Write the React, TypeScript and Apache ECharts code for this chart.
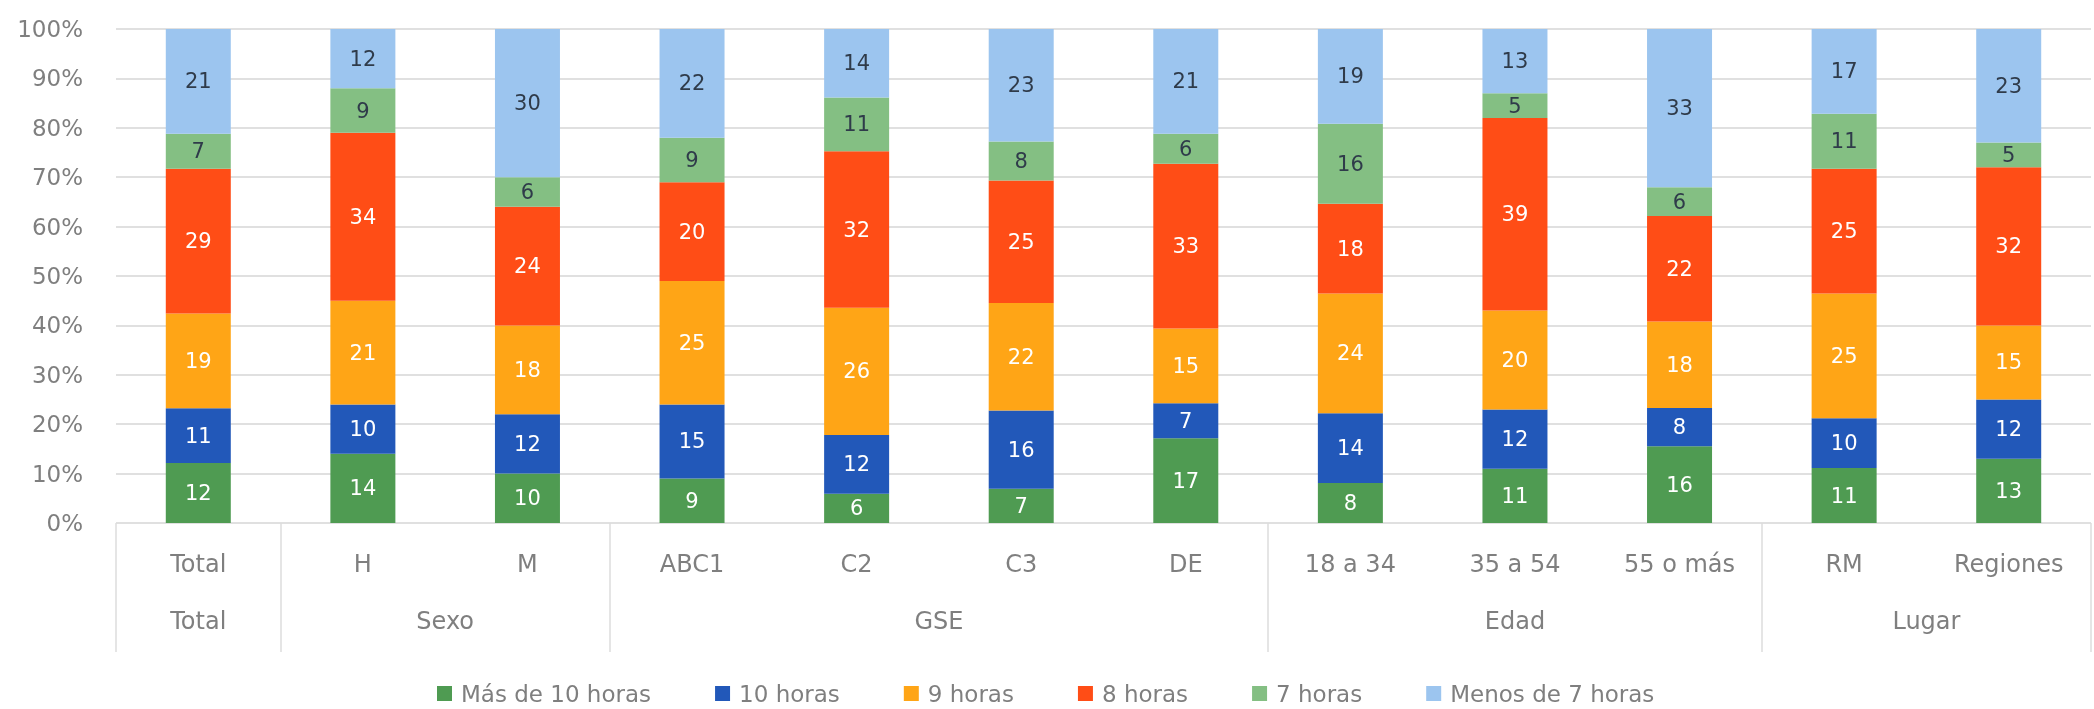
import React, { useEffect, useRef } from "react";
import * as echarts from "echarts";

const categories = ["Total", "H", "M", "ABC1", "C2", "C3", "DE", "18 a 34", "35 a 54", "55 o más", "RM", "Regiones"];
const groupNames = ["Total", "Sexo", "GSE", "Edad", "Lugar"];
const groupSizes = [1, 2, 4, 3, 2];
const seriesNames = ["Más de 10 horas", "10 horas", "9 horas", "8 horas", "7 horas", "Menos de 7 horas"];
const masDe10Horas = [12, 14, 10, 9, 6, 7, 17, 8, 11, 16, 11, 13];
const diezHoras = [11, 10, 12, 15, 12, 16, 7, 14, 12, 8, 10, 12];
const nueveHoras = [19, 21, 18, 25, 26, 22, 15, 24, 20, 18, 25, 15];
const ochoHoras = [29, 34, 24, 20, 32, 25, 33, 18, 39, 22, 25, 32];
const sieteHoras = [7, 9, 6, 9, 11, 8, 6, 16, 5, 6, 11, 5];
const menosDe7Horas = [21, 12, 30, 22, 14, 23, 21, 19, 13, 33, 17, 23];
const seriesColors = ["#4f9b52", "#2258b9", "#ffa516", "#ff4d16", "#84bf83", "#9cc5ef"];
const labelColors = ["#ffffff", "#ffffff", "#ffffff", "#ffffff", "#2f3b4a", "#2f3b4a"];

const FONT = "DejaVu Sans";
const TEXT_GREY = "#7f7f7f";

export default function App() {
  const ref = useRef<HTMLDivElement>(null);
  useEffect(() => {
    if (!ref.current) return;
    const chart = echarts.init(ref.current, undefined, { renderer: "svg" });
    const raw = [masDe10Horas, diezHoras, nueveHoras, ochoHoras, sieteHoras, menosDe7Horas];
    const totals = categories.map((_, i) => raw.reduce((s, arr) => s + arr[i], 0));

    // group axis built on half-category points
    const n = categories.length;
    const groupAxisData: string[] = new Array(2 * n + 1).fill("");
    const tickPoints: number[] = [];
    let start = 0;
    groupNames.forEach((g, k) => {
      tickPoints.push(2 * start);
      groupAxisData[2 * start + groupSizes[k]] = g;
      start += groupSizes[k];
    });
    tickPoints.push(2 * n);

    const series = raw.map((arr, s) => ({
      name: seriesNames[s],
      type: "bar",
      stack: "total",
      barWidth: 65,
      xAxisIndex: 0,
      itemStyle: { color: seriesColors[s] },
      label: {
        show: true,
        position: "inside",
        color: labelColors[s],
        fontSize: 21,
        fontFamily: FONT,
        formatter: (p: any) => String(arr[p.dataIndex]),
      },
      data: arr.map((v, i) => (v / totals[i]) * 100),
    }));

    chart.setOption({
      animation: false,
      textStyle: { fontFamily: FONT },
      grid: { left: 116, top: 29, width: 1996, height: 494 },
      legend: {
        data: seriesNames,
        left: 432,
        top: 677,
        icon: "rect",
        itemWidth: 15,
        itemHeight: 15,
        itemGap: 64,
        textStyle: { fontSize: 23, color: TEXT_GREY, fontFamily: FONT, padding: [0, 0, 0, 4] },
      },
      xAxis: [
        {
          type: "category",
          data: categories,
          axisLine: { show: false },
          axisTick: { show: false },
          axisLabel: { interval: 0, margin: 29, fontSize: 24, color: TEXT_GREY, fontFamily: FONT },
        },
        {
          type: "category",
          data: groupAxisData,
          boundaryGap: false,
          position: "bottom",
          axisLine: { show: false },
          axisTick: {
            show: true,
            interval: (idx: number) => tickPoints.includes(idx),
            length: 129,
            lineStyle: { color: "#dcdcdc", width: 1.5 },
          },
          axisLabel: { interval: 0, margin: 86, fontSize: 24, color: TEXT_GREY, fontFamily: FONT },
          splitLine: { show: false },
        },
      ],
      yAxis: {
        type: "value",
        min: 0,
        max: 100,
        interval: 10,
        axisLabel: { formatter: "{value}%", fontSize: 23, color: TEXT_GREY, margin: 33, fontFamily: FONT },
        splitLine: { lineStyle: { color: "#e0e0e0", width: 2 } },
        axisLine: { show: false },
        axisTick: { show: false },
      },
      series,
    });
    return () => chart.dispose();
  }, []);
  return <div ref={ref} style={{ position: "fixed", left: 0, top: 0, width: 2094, height: 709 }} />;
}
